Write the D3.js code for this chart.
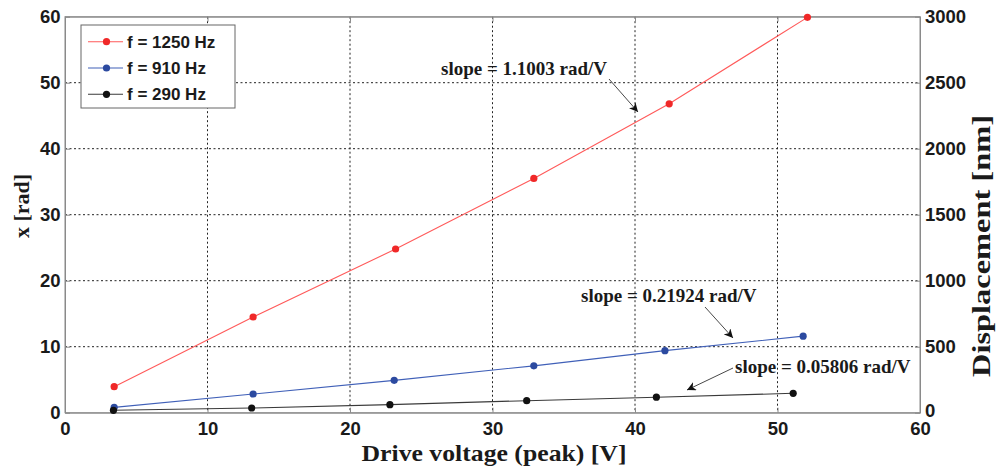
<!DOCTYPE html>
<html>
<head>
<meta charset="utf-8">
<script src="https://cdn.jsdelivr.net/npm/d3@7"></script>
<style>
  html, body { margin: 0; padding: 0; background: #fff; }
  svg { display: block; }
</style>
</head>
<body>
<svg id="chart" width="1000" height="470"></svg>
<script>
// ---- data ----
const xTicks = [0, 10, 20, 30, 40, 50, 60];
const yTicks = [0, 10, 20, 30, 40, 50, 60];
const y2Ticks = [0, 500, 1000, 1500, 2000, 2500, 3000];

const seriesNames = ["f = 1250 Hz", "f = 910 Hz", "f = 290 Hz"];
const seriesColors = ["#f02828", "#2c4aa0", "#111111"];
const lineColors = ["#ff5a5a", "#4060b8", "#3a3a3a"];

const voltage1250 = [3.45, 13.2, 23.2, 32.9, 42.4, 52.1];
const x1250 = [3.94, 14.5, 24.8, 35.5, 46.8, 59.9];
const voltage910 = [3.45, 13.2, 23.1, 32.9, 42.1, 51.8];
const x910 = [0.8, 2.83, 4.9, 7.1, 9.4, 11.6];
const voltage290 = [3.4, 13.1, 22.8, 32.4, 41.5, 51.1];
const x290 = [0.36, 0.71, 1.22, 1.82, 2.35, 2.94];

const annotations = [
  { text: "slope = 1.1003 rad/V", tx: 441, ty: 75, from: [609, 79], to: [638, 112] },
  { text: "slope = 0.21924 rad/V", tx: 581, ty: 302, from: [705, 307], to: [733, 338] },
  { text: "slope = 0.05806 rad/V", tx: 735, ty: 373, from: [733, 368], to: [687, 390] }
];

// ---- chart ----
const svg = d3.select("#chart");
const L = 65, R = 920, T = 16.7, B = 412.7;
const x = d3.scaleLinear().domain([0, 60]).range([L, R]);
const y = d3.scaleLinear().domain([0, 60]).range([B, T]);
const y2 = d3.scaleLinear().domain([0, 3000]).range([B, T]);

const axisColor = "#8a8a8a";
const tickFont = "'Liberation Sans', Arial, sans-serif";
const serif = "'Liberation Serif', 'Times New Roman', serif";

// grid
const grid = svg.append("g");
grid.selectAll(".gx").data(xTicks.filter(d => d > 0 && d < 60)).enter().append("line")
  .attr("x1", d => x(d)).attr("x2", d => x(d)).attr("y1", T).attr("y2", B)
  .attr("stroke", "#222").attr("stroke-width", 1).attr("stroke-dasharray", "2,2.5");
grid.selectAll(".gy").data(yTicks.filter(d => d > 0 && d < 60)).enter().append("line")
  .attr("x1", L).attr("x2", R).attr("y1", d => y(d)).attr("y2", d => y(d))
  .attr("stroke", "#222").attr("stroke-width", 1).attr("stroke-dasharray", "2,2.5");

// axes via d3 axis (inward ticks)
const gBottom = svg.append("g").attr("transform", `translate(0,${B})`)
  .call(d3.axisBottom(x).tickValues(xTicks).tickSizeInner(-5).tickSizeOuter(0).tickPadding(8));
const gLeft = svg.append("g").attr("transform", `translate(${L},0)`)
  .call(d3.axisLeft(y).tickValues(yTicks).tickSizeInner(-5).tickSizeOuter(0).tickPadding(4.5));
const gRight = svg.append("g").attr("transform", `translate(${R},0)`)
  .call(d3.axisRight(y2).tickValues(y2Ticks).tickFormat(d3.format("d")).tickSizeInner(-5).tickSizeOuter(0).tickPadding(5));
const gTop = svg.append("g").attr("transform", `translate(0,${T})`)
  .call(d3.axisTop(x).tickValues(xTicks).tickSizeInner(-5).tickSizeOuter(0).tickFormat(""));

[gBottom, gLeft, gRight, gTop].forEach(g => {
  g.select(".domain").attr("stroke", axisColor);
  g.selectAll(".tick line").attr("stroke", axisColor);
  g.selectAll("text").attr("fill", "#1a1a1a")
    .style("font-family", tickFont).style("font-weight", "bold").style("font-size", "18.5px");
});
gBottom.selectAll("text").attr("dy", "0.75em");
// nudge the right-axis "0" up slightly so it does not collide with the bottom "60"
gRight.selectAll(".tick").filter(d => d === 0).select("text").attr("dy", "0.2em");

// frame
svg.append("rect").attr("x", L).attr("y", T).attr("width", R - L).attr("height", B - T)
  .attr("fill", "none").attr("stroke", axisColor).attr("stroke-width", 1);

// series
const series = [
  { vx: voltage1250, vy: x1250 },
  { vx: voltage910, vy: x910 },
  { vx: voltage290, vy: x290 }
];
const line = d3.line().x(d => x(d[0])).y(d => y(d[1]));
series.forEach((s, i) => {
  const pts = s.vx.map((v, j) => [v, s.vy[j]]);
  svg.append("path").datum(pts).attr("d", line)
    .attr("fill", "none").attr("stroke", lineColors[i]).attr("stroke-width", 1.1);
  svg.append("g").selectAll("circle").data(pts).enter().append("circle")
    .attr("cx", d => x(d[0])).attr("cy", d => y(d[1])).attr("r", 3.6)
    .attr("fill", seriesColors[i]);
});

// annotations
const defs = svg.append("defs");
defs.append("marker").attr("id", "arr").attr("viewBox", "0 0 10 10")
  .attr("refX", 10).attr("refY", 5).attr("markerWidth", 9).attr("markerHeight", 9)
  .attr("markerUnits", "userSpaceOnUse").attr("orient", "auto")
  .append("path").attr("d", "M0,0 L10,5 L0,10 L3,5 Z").attr("fill", "#111");

annotations.forEach(a => {
  svg.append("line").attr("x1", a.from[0]).attr("y1", a.from[1])
    .attr("x2", a.to[0]).attr("y2", a.to[1])
    .attr("stroke", "#333").attr("stroke-width", 0.9).attr("marker-end", "url(#arr)");
  svg.append("text").attr("x", a.tx).attr("y", a.ty).text(a.text)
    .style("font-family", serif).style("font-weight", "bold").style("font-size", "19px")
    .attr("fill", "#1a1a1a");
});

// legend
const lg = svg.append("g");
lg.append("rect").attr("x", 81).attr("y", 25).attr("width", 154).attr("height", 83)
  .attr("fill", "#fff").attr("stroke", "#666").attr("stroke-width", 1);
seriesNames.forEach((name, i) => {
  const cy = 41.7 + i * 26.3;
  lg.append("line").attr("x1", 88).attr("x2", 123).attr("y1", cy).attr("y2", cy)
    .attr("stroke", lineColors[i]).attr("stroke-width", 1.1);
  lg.append("circle").attr("cx", 106.5).attr("cy", cy).attr("r", 3.6).attr("fill", seriesColors[i]);
  lg.append("text").attr("x", 127).attr("y", cy).attr("dy", "0.36em").text(name)
    .style("font-family", tickFont).style("font-weight", "bold").style("font-size", "17px")
    .attr("fill", "#1a1a1a");
});

// axis titles
svg.append("text").attr("x", 494).attr("y", 461).attr("text-anchor", "middle")
  .attr("textLength", 265).attr("lengthAdjust", "spacingAndGlyphs")
  .text("Drive voltage (peak) [V]")
  .style("font-family", serif).style("font-weight", "bold").style("font-size", "23px").attr("fill", "#1a1a1a");
svg.append("text").attr("transform", "translate(29,206) rotate(-90)").attr("text-anchor", "middle")
  .text("x [rad]")
  .style("font-family", serif).style("font-weight", "bold").style("font-size", "22px").attr("fill", "#1a1a1a");
svg.append("text").attr("transform", "translate(990,246) rotate(-90)").attr("text-anchor", "middle")
  .attr("textLength", 262).attr("lengthAdjust", "spacingAndGlyphs")
  .text("Displacement [nm]")
  .style("font-family", serif).style("font-weight", "bold").style("font-size", "26px").attr("fill", "#1a1a1a");
</script>
</body>
</html>
